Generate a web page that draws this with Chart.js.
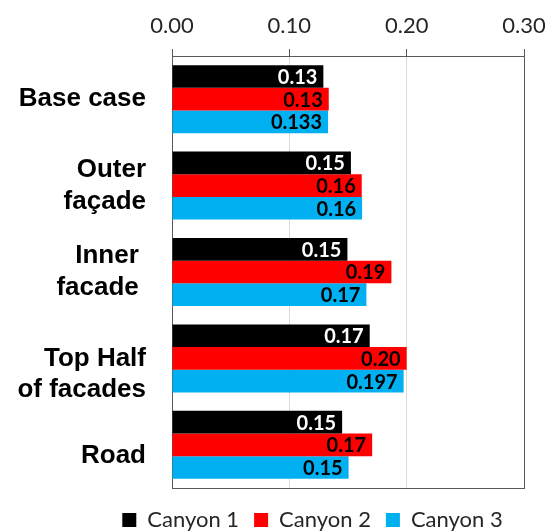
<!DOCTYPE html>
<html>
<head>
<meta charset="utf-8">
<script src="https://cdn.jsdelivr.net/npm/chart.js@4"></script>
<style>
  html, body { margin: 0; padding: 0; background: #ffffff; }
  #c { display: block; }
</style>
</head>
<body>
<canvas id="c" width="551" height="532"></canvas>
<script>
// ---- data ----
const categories = [
  ["Base case"],
  ["Outer", "façade"],
  ["Inner ", "facade "],
  ["Top Half", "of facades"],
  ["Road"]
];
const seriesNames = ["Canyon 1", "Canyon 2", "Canyon 3"];
const canyon1 = [0.129, 0.1525, 0.1495, 0.1685, 0.145];
const canyon2 = [0.1336, 0.1617, 0.187, 0.200, 0.1706];
const canyon3 = [0.133, 0.162, 0.1657, 0.1974, 0.1505];
const canyon1Labels = ["0.13", "0.15", "0.15", "0.17", "0.15"];
const canyon2Labels = ["0.13", "0.16", "0.19", "0.20", "0.17"];
const canyon3Labels = ["0.133", "0.16", "0.17", "0.197", "0.15"];
const xTicks = [0, 0.1, 0.2, 0.3];

// ---- styles ----
const colors = ["#000000", "#FF0000", "#00B0F0"];
const labelColors = ["#FFFFFF", "#000000", "#000000"];
const axisDark = "#595959";
const gridLight = "#D9D9D9";
// labels that sit a little lower than their band centre in the original
const loweredLabels = { 3: 31, 4: 22 };

const valueLabels = [canyon1Labels, canyon2Labels, canyon3Labels];

const barLabelPlugin = {
  id: "barLabels",
  afterDatasetsDraw(chart) {
    const ctx = chart.ctx;
    ctx.save();
    ctx.font = "bold 20px Lato";
    ctx.textAlign = "right";
    ctx.textBaseline = "middle";
    chart.data.datasets.forEach((ds, di) => {
      const meta = chart.getDatasetMeta(di);
      meta.data.forEach((bar, i) => {
        ctx.fillStyle = labelColors[di];
        ctx.fillText(valueLabels[di][i], bar.x - 6, bar.y + 1);
      });
    });
    ctx.restore();
  }
};

new Chart(document.getElementById("c"), {
  type: "bar",
  data: {
    labels: categories,
    datasets: [
      { label: seriesNames[0], data: canyon1, backgroundColor: colors[0] },
      { label: seriesNames[1], data: canyon2, backgroundColor: colors[1] },
      { label: seriesNames[2], data: canyon3, backgroundColor: colors[2] }
    ]
  },
  options: {
    indexAxis: "y",
    responsive: false,
    animation: false,
    devicePixelRatio: 1,
    datasets: { bar: { categoryPercentage: 0.787, barPercentage: 1.0, borderWidth: 0 } },
    layout: { padding: { left: 101, right: 27, top: 0, bottom: -9 } },
    scales: {
      x: {
        position: "top",
        min: 0,
        max: 0.3,
        afterBuildTicks(scale) { scale.ticks = xTicks.map(v => ({ value: v })); },
        afterFit(scale) { scale.paddingLeft = 0; scale.paddingRight = 0; scale.height = 56; },
        ticks: {
          padding: 10,
          color: "#262626",
          font: { family: "Lato", size: 22 },
          callback: (v) => Number(v).toFixed(2)
        },
        grid: {
          color: (c) => (c.tick && (c.tick.value === 0 || Math.abs(c.tick.value - 0.3) < 1e-9)) ? axisDark : gridLight,
          tickColor: axisDark,
          tickLength: 7,
          lineWidth: 1
        },
        border: { display: true, color: axisDark, width: 1 }
      },
      x2: {
        position: "bottom",
        axis: "x",
        min: 0,
        max: 0.3,
        afterFit(scale) { scale.paddingLeft = 0; scale.paddingRight = 0; scale.height = 6; },
        ticks: { display: false },
        grid: { drawOnChartArea: false, drawTicks: false },
        border: { display: true, color: axisDark, width: 1 }
      },
      y: {
        afterFit(scale) {
          scale.width = 71; scale.paddingTop = 0; scale.paddingBottom = 0;
          scale._computeLabelArea = () => undefined;
        },
        ticks: {
          autoSkip: false,
          padding: 26,
          color: "#000000",
          callback: function (v, i) {
            const lab = categories[i];
            return (i in loweredLabels) ? [""].concat(lab) : lab;
          },
          font: (c) => ({
            family: "Liberation Sans",
            weight: "bold",
            size: 26,
            lineHeight: (c.index in loweredLabels) ? loweredLabels[c.index] + "px" : "32px"
          })
        },
        grid: { drawOnChartArea: false, drawTicks: false },
        border: { display: true, color: axisDark, width: 1 }
      }
    },
    plugins: {
      legend: {
        position: "bottom",
        labels: {
          boxWidth: 14,
          boxHeight: 14,
          padding: 15,
          color: "#262626",
          font: { family: "Lato", size: 22 }
        }
      },
      tooltip: { enabled: false }
    }
  },
  plugins: [barLabelPlugin]
});
</script>
</body>
</html>
